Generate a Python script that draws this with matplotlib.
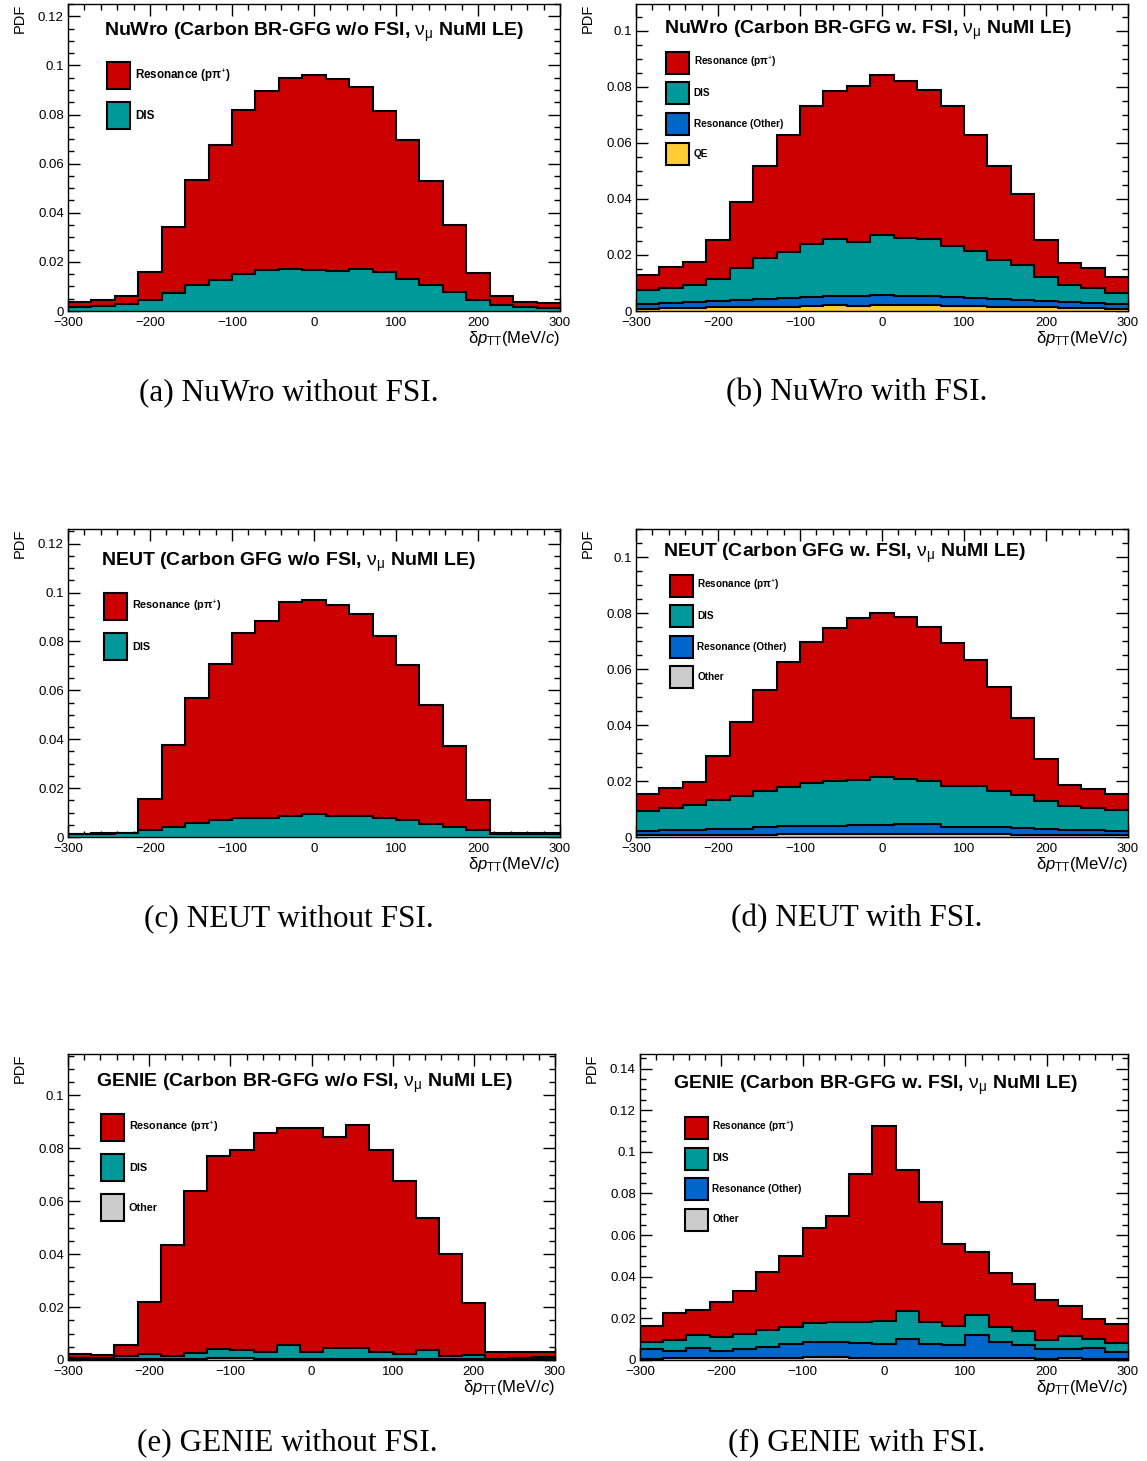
import numpy as np
import matplotlib
matplotlib.use("Agg")
import matplotlib.pyplot as plt
from matplotlib.patches import Patch
from matplotlib.ticker import MultipleLocator, FuncFormatter

plt.rcParams['font.family'] = ['Liberation Sans', 'DejaVu Sans']
plt.rcParams['mathtext.fontset'] = 'custom'
plt.rcParams['mathtext.rm'] = 'Liberation Sans'
plt.rcParams['mathtext.it'] = 'Liberation Sans:italic'
plt.rcParams['mathtext.bf'] = 'Liberation Sans:bold'

# 21 bins of delta p_TT between -300 and 300 MeV/c
edges = np.linspace(-300, 300, 22)

RES = 'Resonance (pπ$^{+}$)'
DIS = 'DIS'
RES_OTHER = 'Resonance (Other)'
QE = 'QE'
OTHER = 'Other'

colors = {RES: '#cc0000', DIS: '#009999', RES_OTHER: '#0066cc',
          QE: '#ffcc33', OTHER: '#cccccc'}

# (a) NuWro, no FSI
nuwro_nofsi_dis = [0.0016, 0.0019, 0.0027, 0.0043, 0.0075, 0.0106, 0.0126, 0.0149, 0.0167, 0.0171, 0.0167,
                   0.0164, 0.0171, 0.0160, 0.0130, 0.0107, 0.0076, 0.0043, 0.0023, 0.0016, 0.0014]
nuwro_nofsi_res = [0.0019, 0.0024, 0.0035, 0.0114, 0.0268, 0.0428, 0.0550, 0.0671, 0.0727, 0.0778, 0.0795,
                   0.0779, 0.0740, 0.0656, 0.0566, 0.0424, 0.0274, 0.0113, 0.0037, 0.0022, 0.0019]

# (b) NuWro, with FSI
nuwro_fsi_qe = [0.0008, 0.0010, 0.0012, 0.0013, 0.0014, 0.0015, 0.0016, 0.0018, 0.0020, 0.0019, 0.0021,
                0.0020, 0.0020, 0.0019, 0.0017, 0.0015, 0.0014, 0.0013, 0.0012, 0.0010, 0.0008]
nuwro_fsi_resother = [0.0016, 0.0017, 0.0020, 0.0023, 0.0025, 0.0028, 0.0029, 0.0031, 0.0035, 0.0033, 0.0035,
                      0.0033, 0.0035, 0.0032, 0.0030, 0.0028, 0.0025, 0.0023, 0.0020, 0.0017, 0.0016]
nuwro_fsi_dis = [0.0050, 0.0056, 0.0059, 0.0079, 0.0113, 0.0147, 0.0164, 0.0189, 0.0202, 0.0194, 0.0214,
                 0.0207, 0.0201, 0.0182, 0.0167, 0.0138, 0.0124, 0.0087, 0.0059, 0.0055, 0.0041]
nuwro_fsi_res = [0.0054, 0.0074, 0.0082, 0.0139, 0.0235, 0.0327, 0.0417, 0.0492, 0.0529, 0.0558, 0.0572,
                 0.0562, 0.0532, 0.0499, 0.0412, 0.0335, 0.0253, 0.0131, 0.0081, 0.0071, 0.0058]

# (c) NEUT, no FSI
neut_nofsi_dis = [0.0011, 0.0012, 0.0015, 0.0027, 0.0041, 0.0056, 0.0068, 0.0079, 0.0079, 0.0086, 0.0095,
                  0.0086, 0.0087, 0.0076, 0.0071, 0.0055, 0.0041, 0.0027, 0.0014, 0.0012, 0.0012]
neut_nofsi_res = [0.0003, 0.0003, 0.0003, 0.0130, 0.0337, 0.0512, 0.0639, 0.0756, 0.0804, 0.0874, 0.0874,
                  0.0865, 0.0827, 0.0748, 0.0633, 0.0487, 0.0333, 0.0124, 0.0002, 0.0006, 0.0003]

# (d) NEUT, with FSI
neut_fsi_other = [0.0006, 0.0006, 0.0007, 0.0007, 0.0008, 0.0008, 0.0009, 0.0009, 0.0010, 0.0010, 0.0011,
                  0.0011, 0.0011, 0.0010, 0.0009, 0.0009, 0.0008, 0.0008, 0.0007, 0.0006, 0.0006]
neut_fsi_resother = [0.0017, 0.0018, 0.0018, 0.0023, 0.0022, 0.0028, 0.0031, 0.0029, 0.0029, 0.0033, 0.0033,
                     0.0037, 0.0034, 0.0025, 0.0028, 0.0028, 0.0025, 0.0021, 0.0019, 0.0018, 0.0017]
neut_fsi_dis = [0.0070, 0.0080, 0.0090, 0.0102, 0.0115, 0.0127, 0.0140, 0.0154, 0.0160, 0.0162, 0.0170,
                0.0160, 0.0156, 0.0148, 0.0145, 0.0128, 0.0117, 0.0098, 0.0086, 0.0080, 0.0072]
neut_fsi_res = [0.0061, 0.0071, 0.0083, 0.0156, 0.0267, 0.0361, 0.0444, 0.0504, 0.0549, 0.0578, 0.0586,
                0.0579, 0.0548, 0.0510, 0.0451, 0.0370, 0.0275, 0.0153, 0.0074, 0.0066, 0.0057]

# (e) GENIE, no FSI
genie_nofsi_other = [0.0002, 0.0002, 0.0002, 0.0003, 0.0003, 0.0004, 0.0008, 0.0008, 0.0004, 0.0004, 0.0003,
                     0.0003, 0.0004, 0.0003, 0.0003, 0.0003, 0.0002, 0.0002, 0.0001, 0.0002, 0.0003]
genie_nofsi_dis = [0.0004, 0.0007, 0.0013, 0.0018, 0.0012, 0.0021, 0.0032, 0.0031, 0.0027, 0.0053, 0.0026,
                   0.0041, 0.0043, 0.0027, 0.0021, 0.0034, 0.0013, 0.0018, 0.0002, 0.0006, 0.0010]
genie_nofsi_res = [0.0018, 0.0009, 0.0043, 0.0198, 0.0418, 0.0612, 0.0730, 0.0753, 0.0827, 0.0818, 0.0846,
                   0.0797, 0.0841, 0.0762, 0.0654, 0.0500, 0.0387, 0.0197, 0.0027, 0.0021, 0.0016]

# (f) GENIE, with FSI
genie_fsi_other = [0.0007, 0.0008, 0.0009, 0.0009, 0.0010, 0.0011, 0.0012, 0.0014, 0.0016, 0.0012, 0.0011,
                   0.0011, 0.0010, 0.0010, 0.0010, 0.0009, 0.0008, 0.0007, 0.0008, 0.0007, 0.0004]
genie_fsi_resother = [0.0046, 0.0037, 0.0047, 0.0033, 0.0043, 0.0053, 0.0065, 0.0071, 0.0072, 0.0070, 0.0064,
                      0.0090, 0.0065, 0.0064, 0.0110, 0.0079, 0.0064, 0.0044, 0.0046, 0.0049, 0.0033]
genie_fsi_dis = [0.0035, 0.0053, 0.0064, 0.0068, 0.0073, 0.0080, 0.0083, 0.0093, 0.0096, 0.0100, 0.0112,
                 0.0134, 0.0109, 0.0088, 0.0096, 0.0072, 0.0067, 0.0043, 0.0063, 0.0045, 0.0043]
genie_fsi_res = [0.0075, 0.0126, 0.0118, 0.0168, 0.0207, 0.0277, 0.0339, 0.0454, 0.0507, 0.0711, 0.0936,
                 0.0680, 0.0573, 0.0395, 0.0301, 0.0259, 0.0227, 0.0196, 0.0144, 0.0096, 0.0094]

W, H = 1147, 1461
DPI = 100


def px_rect(left, top, right, bottom):
    return [left / W, 1 - bottom / H, (right - left) / W, (bottom - top) / H]


def legend_metrics(size_pt, box_w, box_h, pitch):
    # convert wanted box width/height and row pitch (pixels) to legend font units
    fs = size_pt * DPI / 72
    hh = (box_h / fs - 0.245) / 0.65
    return dict(handlelength=box_w / fs, handleheight=hh, labelspacing=(pitch - box_h) / fs)


# each panel: frame in pixels, stack (bottom -> top), legend order, title, y max,
# title position, legend anchor, legend (font size, box height, row pitch)
panels = [
    dict(rect=(68, 4, 560, 311),
         stack=[(DIS, nuwro_nofsi_dis), (RES, nuwro_nofsi_res)],
         legend=[RES, DIS],
         title='NuWro (Carbon BR-GFG w/o FSI, $\\mathrm{\\nu_{\\mu}}$ NuMI LE)',
         ymax=0.125, tpos=(0.073, 0.909), lpos=(0.079, 0.811), leg=(8.4, 27, 40),
         caption='(a) NuWro without FSI.', cap=(289, 393)),
    dict(rect=(636, 4, 1128, 311),
         stack=[(QE, nuwro_fsi_qe), (RES_OTHER, nuwro_fsi_resother), (DIS, nuwro_fsi_dis), (RES, nuwro_fsi_res)],
         legend=[RES, DIS, RES_OTHER, QE],
         title='NuWro (Carbon BR-GFG w. FSI, $\\mathrm{\\nu_{\\mu}}$ NuMI LE)',
         ymax=0.1095, tpos=(0.057, 0.915), lpos=(0.061, 0.844), leg=(7.2, 22, 30.5),
         caption='(b) NuWro with FSI.', cap=(857, 393)),
    dict(rect=(68, 529, 560, 837),
         stack=[(DIS, neut_nofsi_dis), (RES, neut_nofsi_res)],
         legend=[RES, DIS],
         title='NEUT (Carbon GFG w/o FSI, $\\mathrm{\\nu_{\\mu}}$ NuMI LE)',
         ymax=0.126, tpos=(0.067, 0.893), lpos=(0.073, 0.792), leg=(7.8, 27, 40),
         caption='(c) NEUT without FSI.', cap=(289, 919)),
    dict(rect=(636, 529, 1128, 837),
         stack=[(OTHER, neut_fsi_other), (RES_OTHER, neut_fsi_resother), (DIS, neut_fsi_dis), (RES, neut_fsi_res)],
         legend=[RES, DIS, RES_OTHER, OTHER],
         title='NEUT (Carbon GFG w. FSI, $\\mathrm{\\nu_{\\mu}}$ NuMI LE)',
         ymax=0.110, tpos=(0.055, 0.922), lpos=(0.069, 0.851), leg=(7.2, 22, 30.5),
         caption='(d) NEUT with FSI.', cap=(857, 919)),
    dict(rect=(68, 1054, 555, 1360),
         stack=[(OTHER, genie_nofsi_other), (DIS, genie_nofsi_dis), (RES, genie_nofsi_res)],
         legend=[RES, DIS, OTHER],
         title='GENIE (Carbon BR-GFG w/o FSI, $\\mathrm{\\nu_{\\mu}}$ NuMI LE)',
         ymax=0.1156, tpos=(0.0575, 0.905), lpos=(0.068, 0.804), leg=(7.8, 27, 40),
         caption='(e) GENIE without FSI.', cap=(287, 1443)),
    dict(rect=(640, 1054, 1128, 1360),
         stack=[(OTHER, genie_fsi_other), (RES_OTHER, genie_fsi_resother), (DIS, genie_fsi_dis), (RES, genie_fsi_res)],
         legend=[RES, DIS, RES_OTHER, OTHER],
         title='GENIE (Carbon BR-GFG w. FSI, $\\mathrm{\\nu_{\\mu}}$ NuMI LE)',
         ymax=0.147, tpos=(0.068, 0.899), lpos=(0.092, 0.794), leg=(7.2, 22, 30.5),
         caption='(f) GENIE with FSI.', cap=(857, 1443)),
]

fig = plt.figure(figsize=(W / DPI, H / DPI), dpi=DPI)

for p in panels:
    ax = fig.add_axes(px_rect(*p['rect']))
    ax.set_axisbelow(True)

    # stacked histogram, each layer filled on top of the previous one
    bottom = np.zeros(len(edges) - 1)
    for name, vals in p['stack']:
        top = bottom + np.asarray(vals)
        ax.stairs(top, edges, baseline=bottom, fill=True, color=colors[name], lw=0)
        bottom = top
    bottom = np.zeros(len(edges) - 1)
    for name, vals in p['stack']:
        bottom = bottom + np.asarray(vals)
        ax.stairs(bottom, edges, baseline=None, color='black', lw=1.5)

    ax.set_xlim(-300, 300)
    ax.set_ylim(0, p['ymax'])
    ax.xaxis.set_major_locator(MultipleLocator(100))
    ax.xaxis.set_minor_locator(MultipleLocator(20))
    ax.yaxis.set_major_locator(MultipleLocator(0.02))
    ax.yaxis.set_minor_locator(MultipleLocator(0.005))
    ax.xaxis.set_major_formatter(FuncFormatter(lambda v, _: f'{v:g}'.replace('-', '\u2212')))
    ax.yaxis.set_major_formatter(FuncFormatter(lambda v, _: f'{v:g}'))
    ax.tick_params(which='both', direction='in', top=True, right=True, width=1.0, labelsize=9.5)
    ax.tick_params(which='major', length=8.5)
    ax.tick_params(axis='x', which='major', pad=4.5)
    ax.tick_params(axis='y', which='major', pad=3)
    ax.tick_params(which='minor', length=4.5)
    for s in ax.spines.values():
        s.set_linewidth(1.0)

    ax.set_xlabel('δ$\\mathit{p}_{\\mathrm{TT}}$(MeV/$\\mathit{c}$)', loc='right', fontsize=12, labelpad=0)
    ax.set_ylabel('PDF', loc='top', fontsize=10.5, labelpad=8)

    ax.text(p['tpos'][0], p['tpos'][1], p['title'], transform=ax.transAxes,
            ha='left', va='center', fontsize=14, fontweight='bold')

    size_pt, box_h, pitch = p['leg']
    handles = [Patch(facecolor=colors[n], edgecolor='black', linewidth=1.5, label=n) for n in p['legend']]
    ax.legend(handles=handles, loc='upper left', bbox_to_anchor=p['lpos'], frameon=False,
              borderpad=0, borderaxespad=0, handletextpad=0.45,
              prop={'size': size_pt, 'weight': 'bold'},
              **legend_metrics(size_pt, 23, box_h, pitch))

    fig.text(p['cap'][0] / W, 1 - p['cap'][1] / H, p['caption'], ha='center', va='center',
             fontsize=22.5, family='Liberation Serif')

fig.savefig('out.png', dpi=DPI)
